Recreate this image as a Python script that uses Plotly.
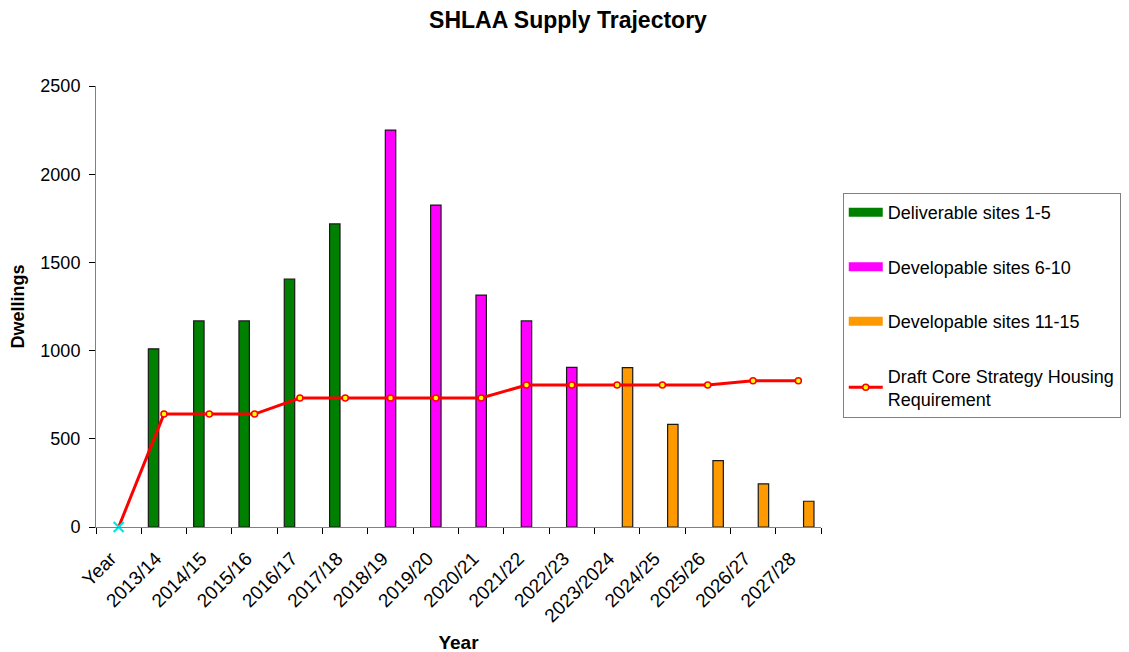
import plotly.graph_objects as go

categories = ["Year", "2013/14", "2014/15", "2015/16", "2016/17", "2017/18",
              "2018/19", "2019/20", "2020/21", "2021/22", "2022/23",
              "2023/2024", "2024/25", "2025/26", "2026/27", "2027/28"]

deliverable_1_5 = [None, 1010, 1168, 1168, 1406, 1718,
                   None, None, None, None, None, None, None, None, None, None]
developable_6_10 = [None, None, None, None, None, None,
                    2250, 1825, 1315, 1168, 905, None, None, None, None, None]
developable_11_15 = [None, None, None, None, None, None, None, None, None, None, None,
                     903, 582, 376, 245, 146]
requirement = [0, 640, 640, 640, 731, 731, 731, 731, 731, 805, 805, 805, 805, 805, 829, 829]

FONT = "Liberation Sans, Arial, sans-serif"

fig = go.Figure()

bar_specs = [
    ("Deliverable sites 1-5", deliverable_1_5, "#008000"),
    ("Developable sites 6-10", developable_6_10, "#FF00FF"),
    ("Developable sites 11-15", developable_11_15, "#FF9900"),
]
for i, (name, vals, col) in enumerate(bar_specs):
    fig.add_trace(go.Bar(
        x=categories, y=vals, name=name, legendgroup=f"g{i}", showlegend=False,
        marker=dict(color=col, line=dict(color="#1a1a1a", width=1.2)),
    ))
    # legend-only entry drawn as a wide swatch like the original legend keys
    fig.add_trace(go.Scatter(
        x=[None], y=[None], mode="lines", name=name, legendgroup=f"g{i}",
        line=dict(color=col, width=9), hoverinfo="skip",
    ))

# connector from the "Year" point to the first requirement point (no legend)
fig.add_trace(go.Scatter(
    x=categories[:2], y=requirement[:2], mode="lines",
    line=dict(color="#FF0000", width=3), showlegend=False, hoverinfo="skip",
))
fig.add_trace(go.Scatter(
    x=categories[1:], y=requirement[1:], mode="lines+markers",
    name="Draft Core Strategy Housing<br>Requirement", legendgroup="g3",
    line=dict(color="#FF0000", width=3),
    marker=dict(symbol="circle", size=6, color="#FFFF00",
                line=dict(color="#FF0000", width=1.5)),
))
fig.add_trace(go.Scatter(
    x=categories[:1], y=requirement[:1], mode="markers", showlegend=False,
    marker=dict(symbol="x-thin", size=10, color="#00FFFF",
                line=dict(color="#00E5E5", width=2.2)),
    hoverinfo="skip", cliponaxis=False,
))

# the page body has an 8px default margin, so figure coords = screen - 8
fig.update_layout(
    width=1129, height=652,
    paper_bgcolor="white", plot_bgcolor="white",
    margin=dict(l=88, r=316, t=78, b=133, autoexpand=False),
    barmode="group", bargap=0.31, bargroupgap=0,
    font=dict(family=FONT, size=18, color="black"),
    title=dict(text="<b>SHLAA Supply Trajectory</b>", x=560 / 1129, xref="container",
               y=1 - 12 / 652, yref="container", xanchor="center", yanchor="middle",
               font=dict(family=FONT, size=23, color="black")),
    legend=dict(x=1.03, y=0.757, xanchor="left", yanchor="top",
                bordercolor="#808080", borderwidth=1, bgcolor="white",
                font=dict(family=FONT, size=18), tracegroupgap=28,
                traceorder="grouped", itemwidth=34),
    showlegend=True,
)

fig.update_xaxes(
    type="category", range=[-0.5, 15.5], tickson="boundaries", ticks="outside",
    ticklen=6, tickcolor="black", tickangle=-45, showline=True, linecolor="#808080",
    linewidth=1, showgrid=False, tickfont=dict(family=FONT, size=19),
    automargin=False, ticklabelstandoff=12, ticklabelshift=-8,
    title=dict(text="<b>Year</b>", font=dict(family=FONT, size=19), standoff=10),
)
fig.update_yaxes(
    range=[0, 2500], tickvals=[0, 500, 1000, 1500, 2000, 2500],
    ticks="outside", ticklen=6, tickcolor="black", showline=True,
    linecolor="#808080", linewidth=1, showgrid=False, zeroline=False,
    tickfont=dict(family=FONT, size=18), automargin=False, ticklabelstandoff=5,
    title=dict(text="<b>Dwellings</b>", font=dict(family=FONT, size=18), standoff=15),
)

fig.write_html("out.html")
